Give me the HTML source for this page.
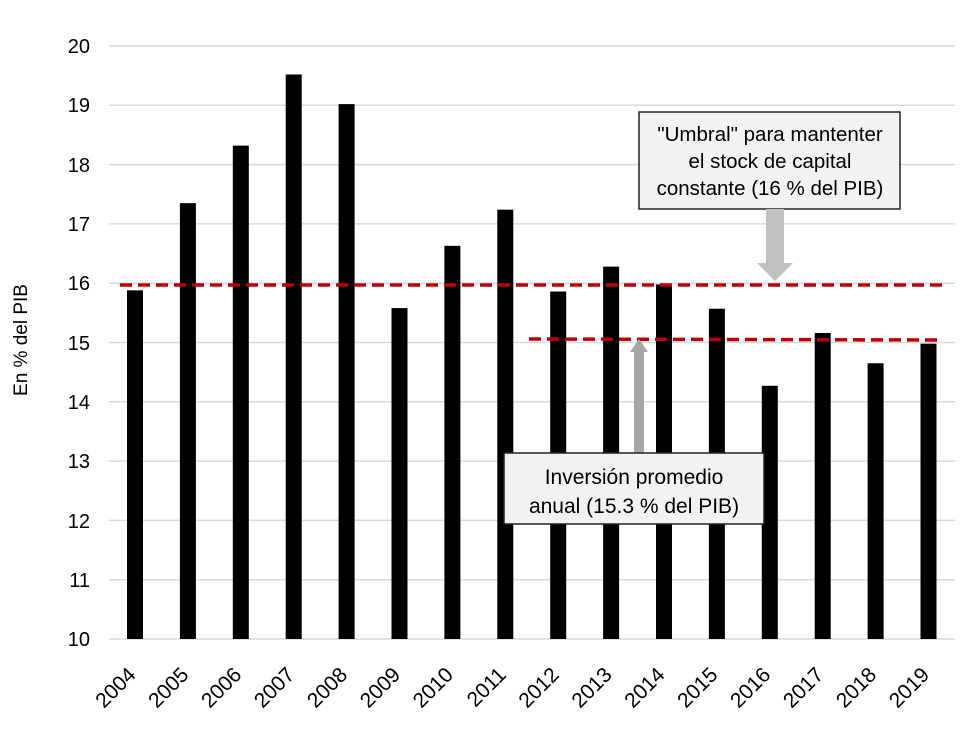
<!DOCTYPE html>
<html><head><meta charset="utf-8"><style>
body{margin:0;background:#fff}
svg{display:block;font-family:"Liberation Sans",sans-serif}
</style></head><body>
<svg width="960" height="730" viewBox="0 0 960 730" xmlns="http://www.w3.org/2000/svg">
<g stroke="#d9d9d9" stroke-width="1.5">
<line x1="109" x2="955" y1="46" y2="46"/><line x1="109" x2="955" y1="105.3" y2="105.3"/>
<line x1="109" x2="955" y1="164.6" y2="164.6"/><line x1="109" x2="955" y1="223.9" y2="223.9"/>
<line x1="109" x2="955" y1="283.2" y2="283.2"/><line x1="109" x2="955" y1="342.5" y2="342.5"/>
<line x1="109" x2="955" y1="401.8" y2="401.8"/><line x1="109" x2="955" y1="461.1" y2="461.1"/>
<line x1="109" x2="955" y1="520.4" y2="520.4"/><line x1="109" x2="955" y1="579.7" y2="579.7"/>
<line x1="109" x2="955" y1="639" y2="639"/>
</g>
<g font-size="20" fill="#000" text-anchor="end">
<text x="90" y="53">20</text><text x="90" y="112">19</text><text x="90" y="172">18</text>
<text x="90" y="231">17</text><text x="90" y="290">16</text><text x="90" y="350">15</text>
<text x="90" y="409">14</text><text x="90" y="468">13</text><text x="90" y="528">12</text>
<text x="90" y="587">11</text><text x="90" y="646">10</text>
</g>
<text transform="translate(27,340) rotate(-90)" font-size="19" text-anchor="middle">En % del PIB</text>
<g fill="#000" id="bars"></g>
<g stroke="#c00000" stroke-width="3.5" stroke-dasharray="12,6" fill="none">
<line x1="120" x2="942" y1="285" y2="285"/>
<line x1="529" x2="942" y1="339" y2="340"/>
</g>
<rect x="639" y="112" width="261" height="97" fill="#f2f2f2" stroke="#222" stroke-width="1.5"/>
<g font-size="20.5" text-anchor="middle"><text x="770" y="141">"Umbral" para mantenter</text>
<text x="770" y="168">el stock de capital</text><text x="770" y="195">constante (16 % del PIB)</text></g>
<polygon points="766,209 784,209 784,263 793,263 775,281 757,263 766,263" fill="#c0c0c0"/>
<polygon points="634,453 644,453 644,352 648,352 639,339 630,352 634,352" fill="#a6a6a6"/>
<rect x="504" y="453" width="260" height="71" fill="#f2f2f2" stroke="#222" stroke-width="1.5"/>
<g font-size="21" text-anchor="middle"><text x="634" y="484">Inversión promedio</text>
<text x="634" y="513">anual (15.3 % del PIB)</text></g>
<g font-size="21" text-anchor="end" id="lbl"></g>
<script>
var v=[15.88,17.35,18.32,19.52,19.02,15.58,16.63,17.24,15.86,16.28,15.98,15.57,14.27,15.16,14.65,14.98];
var b=document.getElementById('bars'),l=document.getElementById('lbl'),ns='http://www.w3.org/2000/svg';
v.forEach(function(d,i){var cx=135+52.9*i,y=639-(d-10)*59.3;
var r=document.createElementNS(ns,'rect');r.setAttribute('x',cx-8);r.setAttribute('y',y);r.setAttribute('width',16);r.setAttribute('height',639-y);b.appendChild(r);
var t=document.createElementNS(ns,'text');t.setAttribute('transform','translate('+(cx+2)+',676) rotate(-45)');t.textContent=2004+i;l.appendChild(t);});
</script>
</svg>
</body></html>
